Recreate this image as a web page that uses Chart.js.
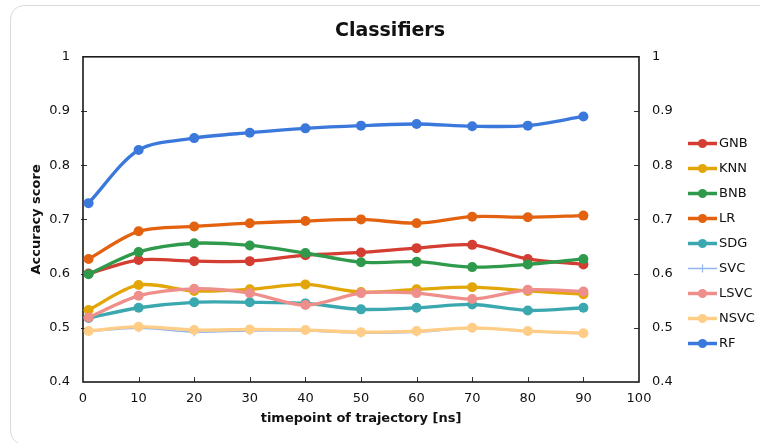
<!DOCTYPE html>
<html>
<head>
<meta charset="utf-8">
<script src="https://cdn.jsdelivr.net/npm/chart.js@4/dist/chart.umd.min.js"></script>
<style>
  html, body { margin: 0; padding: 0; background: #fff; overflow: hidden; }
  #wrap { position: relative; width: 760px; height: 443px; overflow: hidden; }
  #frame { position: absolute; left: 10px; top: 5px; width: 800px; height: 440px;
           border: 1px solid #dadada; border-radius: 14px; box-sizing: border-box; }
  #c { position: absolute; left: 0; top: 0; }
</style>
</head>
<body>
<div id="wrap">
  <div id="frame"></div>
  <canvas id="c" width="760" height="443"></canvas>
</div>
<script>
// Timepoints along the trajectory (ns)
const timepoints = [1, 10, 20, 30, 40, 50, 60, 70, 80, 90];

// Accuracy score of each classifier at every timepoint
const GNB  = [0.600, 0.625, 0.623, 0.623, 0.634, 0.639, 0.647, 0.653, 0.627, 0.617];
const KNN  = [0.533, 0.579, 0.568, 0.571, 0.580, 0.566, 0.571, 0.575, 0.568, 0.562];
const BNB  = [0.599, 0.640, 0.656, 0.652, 0.638, 0.621, 0.622, 0.612, 0.617, 0.627];
const LR   = [0.627, 0.678, 0.687, 0.693, 0.697, 0.700, 0.693, 0.705, 0.704, 0.707];
const SDG  = [0.518, 0.537, 0.547, 0.547, 0.545, 0.534, 0.537, 0.543, 0.532, 0.537];
const SVC  = [0.493, 0.499, 0.492, 0.494, 0.494, 0.490, 0.492, 0.499, 0.493, 0.489];
const LSVC = [0.519, 0.559, 0.572, 0.564, 0.542, 0.564, 0.564, 0.553, 0.570, 0.567];
const NSVC = [0.494, 0.502, 0.496, 0.497, 0.496, 0.492, 0.494, 0.500, 0.494, 0.490];
const RF   = [0.730, 0.828, 0.850, 0.860, 0.868, 0.873, 0.876, 0.872, 0.873, 0.890];

const seriesNames  = ['GNB', 'KNN', 'BNB', 'LR', 'SDG', 'SVC', 'LSVC', 'NSVC', 'RF'];
const seriesValues = [GNB, KNN, BNB, LR, SDG, SVC, LSVC, NSVC, RF];
const seriesColors = ['#d43d32', '#e2a608', '#2f9a4b', '#e3620f', '#3ba8b0',
                      '#93b4ef', '#ef8f8b', '#ffcd85', '#3b78dc'];

const yMin = 0.4, yMax = 1, yStep = 0.1;
const xMin = 0, xMax = 100, xStep = 10;

const FONT = "'DejaVu Sans', sans-serif";
const INK = '#111';

const datasets = seriesNames.map((name, i) => {
  const thin = name === 'SVC';
  return {
    label: name,
    data: timepoints.map((t, k) => ({ x: t, y: seriesValues[i][k] })),
    borderColor: seriesColors[i],
    backgroundColor: seriesColors[i],
    borderWidth: thin ? 1.5 : 3.3,
    pointStyle: thin ? 'cross' : 'circle',
    pointRadius: thin ? 4 : 5,
    pointBorderWidth: thin ? 1.2 : 0,
    pointBorderColor: seriesColors[i],
    tension: 0.3,
    clip: false,
    // later series are painted over earlier ones
    order: seriesNames.length - i
  };
});

// Plot frame and inward tick marks
const frameAndTicks = {
  id: 'frameAndTicks',
  beforeDatasetsDraw(chart) {
    const { ctx, chartArea: a, scales } = chart;
    ctx.save();
    ctx.strokeStyle = '#333';
    ctx.lineWidth = 1;
    ctx.beginPath();
    for (let v = xMin + xStep; v < xMax; v += xStep) {
      const px = Math.round(scales.x.getPixelForValue(v)) + 0.5;
      ctx.moveTo(px, a.bottom); ctx.lineTo(px, a.bottom - 5);
    }
    for (let v = yMin + yStep; v < yMax - 1e-9; v += yStep) {
      const py = Math.round(scales.y.getPixelForValue(v)) + 0.5;
      ctx.moveTo(a.left - 2, py); ctx.lineTo(a.left + 4, py);
      ctx.moveTo(a.right, py); ctx.lineTo(a.right - 5, py);
    }
    ctx.stroke();
    ctx.strokeStyle = '#1a1a1a';
    ctx.lineWidth = 1.6;
    ctx.strokeRect(a.left, a.top, a.right - a.left, a.bottom - a.top);
    ctx.restore();
  }
};

// Legend with line-and-marker samples, to the right of the plot
const sideLegend = {
  id: 'sideLegend',
  afterDraw(chart) {
    const { ctx } = chart;
    const top = 143.5, step = 25, x0 = 688, x1 = 717, tx = 719;
    ctx.save();
    ctx.font = '13px ' + FONT;
    ctx.textBaseline = 'middle';
    ctx.textAlign = 'left';
    chart.data.datasets.forEach((ds, i) => {
      const y = top + i * step;
      ctx.strokeStyle = ds.borderColor;
      ctx.lineWidth = ds.pointStyle === 'cross' ? 1.5 : 3.5;
      ctx.beginPath(); ctx.moveTo(x0, y); ctx.lineTo(x1, y); ctx.stroke();
      const cx = (x0 + x1) / 2;
      if (ds.pointStyle === 'cross') {
        ctx.lineWidth = 1.2;
        ctx.beginPath();
        ctx.moveTo(cx, y - 4); ctx.lineTo(cx, y + 4);
        ctx.moveTo(cx - 4, y); ctx.lineTo(cx + 4, y);
        ctx.stroke();
      } else {
        ctx.fillStyle = ds.backgroundColor;
        ctx.beginPath(); ctx.arc(cx, y, 4.5, 0, Math.PI * 2); ctx.fill();
      }
      ctx.fillStyle = INK;
      ctx.fillText(ds.label, tx, y + 0.5);
    });
    ctx.restore();
  }
};

const yTickLabel = v => String(+Number(v).toFixed(1));

new Chart(document.getElementById('c'), {
  type: 'line',
  data: { datasets },
  options: {
    responsive: false,
    animation: false,
    layout: { padding: { left: 20, right: 0, top: 8, bottom: 0 } },
    plugins: {
      legend: { display: false },
      tooltip: { enabled: false },
      title: {
        display: true,
        text: 'Classifiers',
        color: INK,
        font: { family: FONT, size: 19, weight: 'bold' },
        padding: { top: 12, bottom: 14 }
      }
    },
    scales: {
      x: {
        type: 'linear',
        min: xMin, max: xMax,
        ticks: { stepSize: xStep, color: INK, font: { family: FONT, size: 13 }, padding: 9 },
        grid: { display: false, drawTicks: false },
        border: { display: false },
        title: {
          display: true, text: 'timepoint of trajectory [ns]', color: INK,
          font: { family: FONT, size: 13, weight: 'bold' },
          padding: { top: 0, bottom: 17 }
        },
        afterFit(s) { s.height = 61; }
      },
      y: {
        position: 'left',
        min: yMin, max: yMax,
        ticks: { stepSize: yStep, color: INK, font: { family: FONT, size: 13 }, padding: 13,
                 callback: yTickLabel },
        grid: { display: false, drawTicks: false },
        border: { display: false },
        title: {
          display: true, text: 'Accuracy score', color: INK,
          font: { family: FONT, size: 13, weight: 'bold' },
          padding: { top: 9, bottom: 0 }
        },
        afterFit(s) { s.width = 63; }
      },
      y2: {
        position: 'right',
        min: yMin, max: yMax,
        ticks: { stepSize: yStep, color: INK, font: { family: FONT, size: 13 }, padding: 13,
                 callback: yTickLabel },
        grid: { display: false, drawTicks: false },
        border: { display: false },
        afterFit(s) { s.width = 121; }
      }
    }
  },
  plugins: [frameAndTicks, sideLegend]
});
</script>
</body>
</html>
